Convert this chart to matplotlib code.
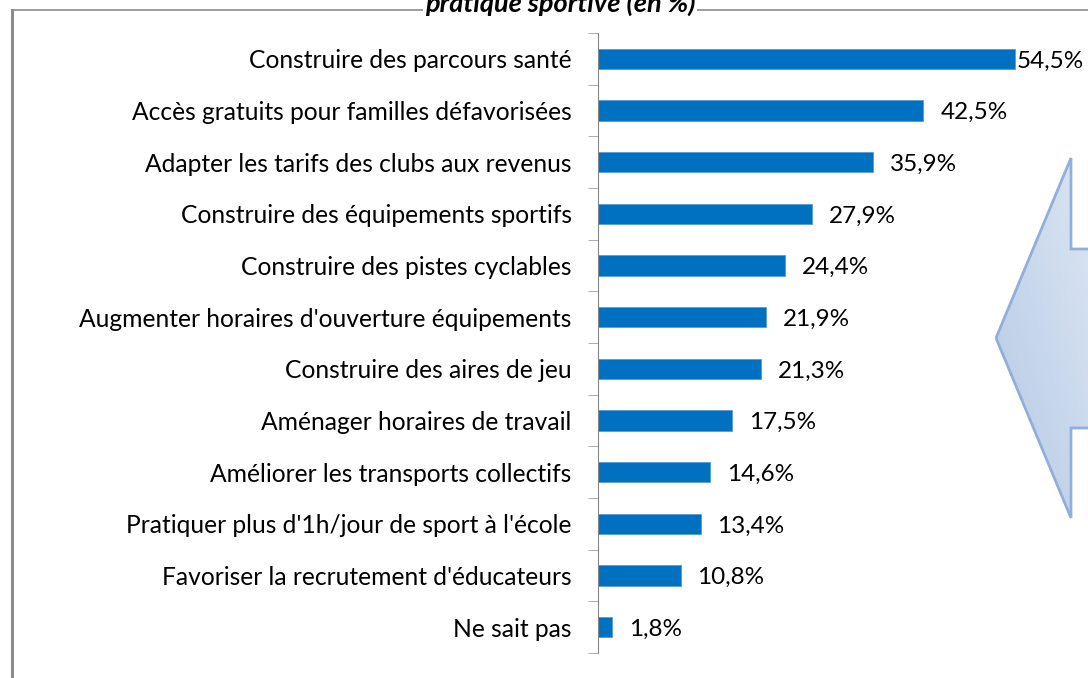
import numpy as np
import matplotlib
matplotlib.use('Agg')
import matplotlib.pyplot as plt
from matplotlib.patches import Polygon
from matplotlib.colors import LinearSegmentedColormap

categories = [
    "Construire des parcours santé",
    "Accès gratuits pour familles défavorisées",
    "Adapter les tarifs des clubs aux revenus",
    "Construire des équipements sportifs",
    "Construire des pistes cyclables",
    "Augmenter horaires d'ouverture équipements",
    "Construire des aires de jeu",
    "Aménager horaires de travail",
    "Améliorer les transports collectifs",
    "Pratiquer plus d'1h/jour de sport à l'école",
    "Favoriser la recrutement d'éducateurs",
    "Ne sait pas",
]
values = [54.5, 42.5, 35.9, 27.9, 24.4, 21.9, 21.3, 17.5, 14.6, 13.4, 10.8, 1.8]
value_labels = ["54,5%", "42,5%", "35,9%", "27,9%", "24,4%", "21,9%",
                "21,3%", "17,5%", "14,6%", "13,4%", "10,8%", "1,8%"]
title = "pratique sportive (en %)"

plt.rcParams['font.family'] = ['Lato', 'DejaVu Sans']

W, H = 1088, 678
fig = plt.figure(figsize=(W / 100, H / 100), dpi=100)

# overlay in pixel coords for the frame, the title and the arrow shape
bg = fig.add_axes([0, 0, 1, 1])
bg.axis('off')
bg.plot([12, W], [10, 10], color='#8c8c8c', lw=1.2)
bg.plot([12, 12], [10, H], color='#8c8c8c', lw=2.2)
bg.text(560, 12, title, ha='center', va='baseline', fontsize=19.5, fontweight='bold',
        fontstyle='italic', color='black',
        bbox=dict(facecolor='white', edgecolor='none', pad=1))

# left pointing arrow (cut by the right edge)
arrow_pts = [(996, 338), (1071, 158), (1071, 249), (1095, 249),
             (1095, 428), (1071, 428), (1071, 518)]
poly = Polygon(arrow_pts, closed=True, facecolor='none', edgecolor='#92afd8', lw=2, zorder=3)
bg.add_patch(poly)
gx, gy = np.meshgrid(np.linspace(0, 1, 100), np.linspace(0, 1, 100))
g = 0.5 * gx + 0.5 * (1 - gy)
cmap = LinearSegmentedColormap.from_list('arrow', ['#b3c8e5', '#dde7f3'])
im = bg.imshow(g, extent=(990, 1095, 525, 150), cmap=cmap, zorder=2, aspect='auto')
im.set_clip_path(poly)
bg.set_xlim(0, W)
bg.set_ylim(H, 0)

ax = fig.add_axes([598 / W, (H - 653) / H, (W - 598) / W, (653 - 33) / H])
ax.set_facecolor('none')
pos = np.arange(len(categories))
ax.barh(pos, values, height=0.39, color='#0070c0', edgecolor='#5b9bd5', linewidth=0.6)
ax.set_ylim(len(categories) - 0.5, -0.5)
ax.set_xlim(0, 64)
ax.set_yticks(pos)
ax.set_yticklabels(categories, fontsize=17.7)
ax.set_yticks(np.arange(len(categories) + 1) - 0.5, minor=True)
ax.tick_params(axis='y', which='major', length=0, pad=19)
ax.tick_params(axis='y', which='minor', length=7, color='#a0a0a0', direction='out')
ax.set_xticks([])
for s in ['top', 'right', 'bottom']:
    ax.spines[s].set_visible(False)
ax.spines['left'].set_color('#868686')

for i, (v, lab) in enumerate(zip(values, value_labels)):
    off = 0.15 if i == 0 else 2.2
    ax.text(v + off, i + 0.04, lab, va='center', ha='left', fontsize=17.5, color='black')

fig.savefig('out.png', dpi=100)
